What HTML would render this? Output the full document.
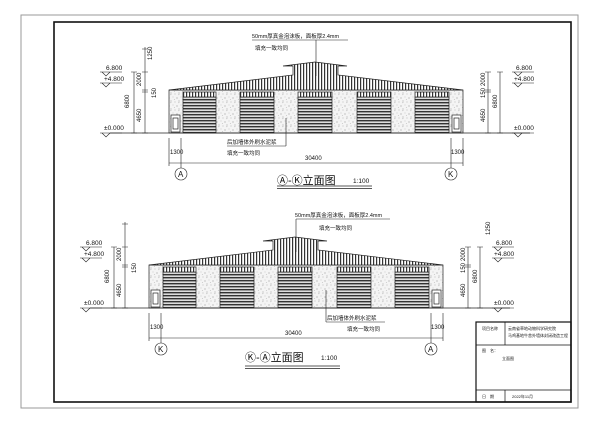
<!DOCTYPE html>
<html><head><meta charset="utf-8"><style>
html,body{margin:0;padding:0;background:#fff;}
svg{display:block;}
text{font-family:"Liberation Sans","Noto Sans CJK SC",sans-serif;fill:#111;}
</style></head><body>
<svg width="600" height="424" viewBox="0 0 600 424" xmlns="http://www.w3.org/2000/svg">
<defs>
<pattern id="vs" width="3" height="10" patternUnits="userSpaceOnUse"><rect width="3" height="10" fill="#fff"/><rect width="1.2" height="10" fill="#333"/></pattern>
<pattern id="hs" width="10" height="3" patternUnits="userSpaceOnUse"><rect width="10" height="3" fill="#ddd"/><rect width="10" height="1.4" fill="#333"/></pattern>
<pattern id="st" width="8" height="8" patternUnits="userSpaceOnUse"><rect width="8" height="8" fill="#f4f4f4"/><circle cx="1" cy="2" r=".5" fill="#777"/><circle cx="5" cy="1" r=".4" fill="#999"/><circle cx="3" cy="5" r=".5" fill="#888"/><circle cx="7" cy="6" r=".4" fill="#777"/><path d="M2 7l1.5-.8M6 3l.8 1" stroke="#aaa" stroke-width=".5"/></pattern>
<g id="bld" stroke="#222" stroke-width="0.7">
<rect x="169" y="90" width="294" height="43" fill="url(#st)"/>
<polygon points="169,90 293,75 293,66 283,66 315,62 347,66 338,66 338,75 463,90" fill="url(#vs)"/>
<g fill="url(#hs)">
<rect x="183" y="97" width="33" height="36"/><rect x="240" y="97" width="34" height="36"/><rect x="298" y="97" width="34" height="36"/><rect x="357" y="97" width="34" height="36"/><rect x="415" y="97" width="34" height="36"/>
</g>
<g fill="url(#vs)">
<rect x="183" y="92" width="33" height="5"/><rect x="240" y="92" width="34" height="5"/><rect x="298" y="92" width="34" height="5"/><rect x="357" y="92" width="34" height="5"/><rect x="415" y="92" width="34" height="5"/>
</g>
<rect x="171" y="115" width="9" height="17" fill="#fff"/><rect x="173" y="118" width="5" height="11" fill="none"/>
<rect x="452" y="115" width="9" height="17" fill="#fff"/><rect x="454" y="118" width="5" height="11" fill="none"/>
<line x1="110" y1="133" x2="530" y2="133"/>
</g>
<g id="dims" stroke="#222" stroke-width="0.6" fill="none">
<line x1="145" y1="47" x2="145" y2="133"/><line x1="134" y1="72" x2="134" y2="133"/>
<path d="M142 49h6M142 72h6M142 90h6M142 92h6M142 133h6M131 72h6M131 133h6"/>
<path d="M100 72h22M102 72l4 4 4-4M100 83h22M102 83l4 4 4-4M100 133h22M102 133l4 4 4-4"/>
<line x1="488" y1="72" x2="488" y2="133"/><line x1="500" y1="72" x2="500" y2="133"/>
<path d="M485 72h6M485 90h6M485 92h6M485 133h6M497 72h6M497 133h6"/>
<path d="M512 72h22M514 72l4 4 4-4M512 83h22M514 83l4 4 4-4M512 133h22M514 133l4 4 4-4"/>
<line x1="169" y1="163" x2="463" y2="163"/>
<path d="M169 138v28M181 138v30M451 138v30M463 138v28"/>
</g>
</defs>
<rect x="21" y="15" width="557" height="393" fill="none" stroke="#999" stroke-width="1"/>
<rect x="54" y="22" width="517" height="380" fill="none" stroke="#111" stroke-width="1.6"/>

<use href="#bld"/><use href="#dims"/>
<g font-size="6.5">
<text x="106" y="70">6.800</text><text x="104" y="81">+4.800</text><text x="104" y="130">±0.000</text>
<text x="516" y="70">6.800</text><text x="514" y="81">+4.800</text><text x="514" y="130">±0.000</text>
</g>
<g font-size="6">
<text transform="translate(152,60) rotate(-90)">1250</text>
<text transform="translate(141,86) rotate(-90)">2000</text>
<text transform="translate(156,98) rotate(-90)">150</text>
<text transform="translate(129,108) rotate(-90)">6800</text>
<text transform="translate(141,122) rotate(-90)">4650</text>
<text transform="translate(485,86) rotate(-90)">2000</text>
<text transform="translate(485,98) rotate(-90)">150</text>
<text transform="translate(485,122) rotate(-90)">4650</text>
<text transform="translate(497,108) rotate(-90)">6800</text>
<text x="170" y="154">1300</text><text x="451" y="154">1300</text><text x="305" y="160">30400</text>
</g>
<g font-size="5.5">
<text x="252" y="38">50mm厚真金泡沫板，面板厚2.4mm</text>
<text x="255" y="50">填充一致均同</text>
<text x="227" y="144">后加墙体外刷水泥浆</text>
<text x="227" y="155">填充一致均同</text>
</g>
<g stroke="#222" stroke-width="0.6" fill="none">
<path d="M252 40h96M316 40v36M227 146h59M286 118v28"/>
<circle cx="181" cy="174" r="6"/><circle cx="451" cy="174" r="6"/>
<path d="M277 186h95M277 188.5h95" stroke-width="0.8"/>
</g>
<text x="178" y="177" font-size="8" font-family="Liberation Serif">A</text><text x="448" y="177" font-size="8" font-family="Liberation Serif">K</text>
<text x="277" y="184" font-size="11">Ⓐ-Ⓚ立面图</text><text x="353" y="183" font-size="6.5">1:100</text>

<g transform="translate(-20,175)"><use href="#bld"/><use href="#dims"/></g>
<g font-size="6.5">
<text x="86" y="245">6.800</text><text x="84" y="256">+4.800</text><text x="84" y="305">±0.000</text>
<text x="496" y="245">6.800</text><text x="494" y="256">+4.800</text><text x="494" y="305">±0.000</text>
</g>
<g font-size="6">
<text transform="translate(490,235) rotate(-90)">1250</text>
<text transform="translate(121,261) rotate(-90)">2000</text>
<text transform="translate(136,273) rotate(-90)">150</text>
<text transform="translate(109,283) rotate(-90)">6800</text>
<text transform="translate(121,297) rotate(-90)">4650</text>
<text transform="translate(465,261) rotate(-90)">2000</text>
<text transform="translate(465,273) rotate(-90)">150</text>
<text transform="translate(465,297) rotate(-90)">4650</text>
<text transform="translate(477,283) rotate(-90)">6800</text>
<text x="150" y="329">1300</text><text x="431" y="329">1300</text><text x="285" y="335">30400</text>
</g>
<g font-size="5.5">
<text x="295" y="217">50mm厚真金泡沫板，面板厚2.4mm</text>
<text x="319" y="230">填充一致均同</text>
<text x="327" y="320">后加墙体外刷水泥浆</text>
<text x="347" y="331">填充一致均同</text>
</g>
<g stroke="#222" stroke-width="0.6" fill="none">
<path d="M296 219h94M296 219v33M326 322h59M326 290v32"/>
<circle cx="161" cy="349" r="6"/><circle cx="431" cy="349" r="6"/>
<path d="M245 366h95M245 368.5h95" stroke-width="0.8"/>
</g>
<text x="158" y="352" font-size="8" font-family="Liberation Serif">K</text><text x="428" y="352" font-size="8" font-family="Liberation Serif">A</text>
<text x="245" y="361" font-size="11">Ⓚ-Ⓐ立面图</text><text x="321" y="360" font-size="6.5">1:100</text>

<g stroke="#111" fill="none">
<rect x="476" y="322" width="95" height="80" stroke-width="1.2"/>
<path d="M476 345h95M476 390h95M505 322v23M505 390v12" stroke-width="0.7"/>
</g>
<g font-size="4">
<text x="482" y="330">项目名称</text>
<text x="508" y="330">云南省草地动物科学研究院</text>
<text x="508" y="337">马鸡基地牛舍外墙体封闭改造工程</text>
<text x="482" y="352">图　名：</text>
<text x="502" y="360">立面图</text>
<text x="482" y="398">日　期</text>
<text x="512" y="398">2022年11月</text>
</g>
</svg>
</body></html>
